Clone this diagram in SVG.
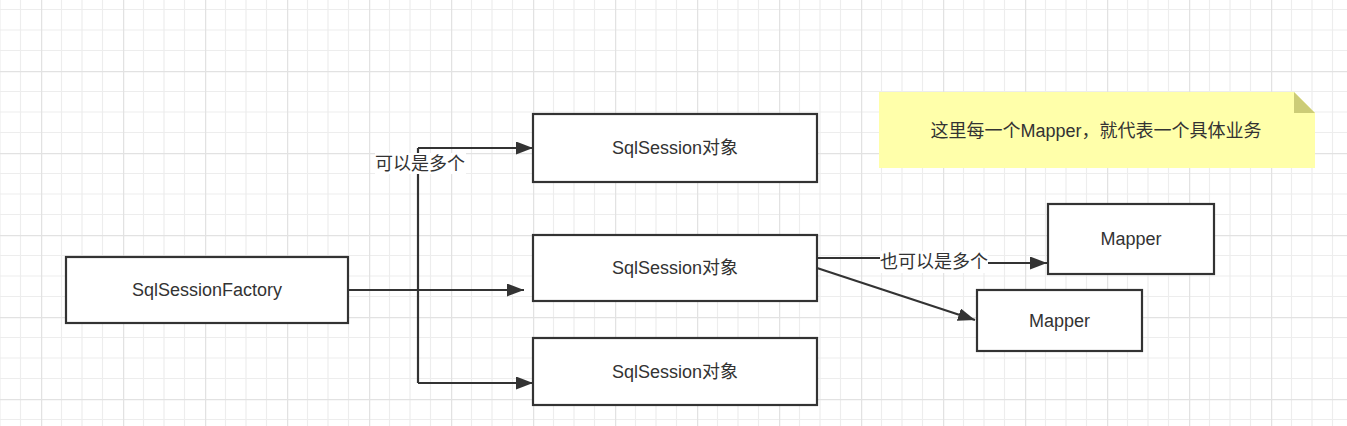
<svg xmlns="http://www.w3.org/2000/svg" width="1347" height="426" viewBox="0 0 1347 426">
<style>
.box{fill:#ffffff;stroke:#333333;stroke-width:2.2}
.lbl{font-family:"Liberation Sans","Noto Sans CJK SC",sans-serif;font-size:18px;fill:#333333;text-anchor:middle;dominant-baseline:central}
.conn{fill:none;stroke:#333333;stroke-width:2.2}
.minor{stroke:#ededed;stroke-width:1.2}
.major{stroke:#e2e2e2;stroke-width:1.5}
</style>
<defs>
<pattern id="grid" patternUnits="userSpaceOnUse" x="41" y="71" width="82" height="82">
<path class="minor" d="M20.5,0V82M41,0V82M61.5,0V82M0,20.5H82M0,41H82M0,61.5H82"/>
<path class="major" d="M0.5,0V82M0,0.5H82"/>
</pattern>
<marker id="arr" markerUnits="userSpaceOnUse" markerWidth="18" markerHeight="14" refX="17" refY="6.5" orient="auto" viewBox="0 0 18 14">
<path d="M0,0L17,6.5L0,13z" fill="#333333"/>
</marker>
</defs>
<rect width="1347" height="426" fill="#ffffff"/>
<rect width="1347" height="426" fill="url(#grid)"/>

<g id="connectors">
<path class="conn" d="M348,290H524" marker-end="url(#arr)"/>
<path class="conn" d="M418,148V383"/>
<path class="conn" d="M418,148H533" marker-end="url(#arr)"/>
<path class="conn" d="M418,383H533" marker-end="url(#arr)"/>
<path class="conn" d="M817,258H934V263H1047" marker-end="url(#arr)"/>
<path class="conn" d="M817,268L975,320" marker-end="url(#arr)"/>
<g id="label1">
<rect x="375" y="153" width="91" height="21" fill="#ffffff"/>
<text class="lbl" x="420" y="163.5">可以是多个</text>
</g>
<g id="label2">
<rect x="880" y="251" width="108" height="22" fill="#ffffff"/>
<text class="lbl" x="934" y="262">也可以是多个</text>
</g>
</g>

<g id="factory">
<rect class="box" x="66" y="257" width="282" height="66"/>
<text class="lbl" x="207" y="290">SqlSessionFactory</text>
</g>
<g id="session1">
<rect class="box" x="533" y="114" width="284" height="68"/>
<text class="lbl" x="675" y="148">SqlSession对象</text>
</g>
<g id="session2">
<rect class="box" x="533" y="235" width="284" height="66"/>
<text class="lbl" x="675" y="268">SqlSession对象</text>
</g>
<g id="session3">
<rect class="box" x="533" y="338" width="284" height="67"/>
<text class="lbl" x="675" y="371.5">SqlSession对象</text>
</g>
<g id="mapper1">
<rect class="box" x="1048" y="204" width="166" height="70"/>
<text class="lbl" x="1131" y="239">Mapper</text>
</g>
<g id="mapper2">
<rect class="box" x="977" y="290" width="165" height="61"/>
<text class="lbl" x="1059.5" y="320.5">Mapper</text>
</g>
<g id="note">
<path d="M879,92H1294L1315,113V168H879z" fill="#ffffaa"/>
<path d="M1294,92L1315,113H1294z" fill="#cccc77"/>
<text class="lbl" x="1096" y="131">这里每一个Mapper，就代表一个具体业务</text>
</g>
</svg>
